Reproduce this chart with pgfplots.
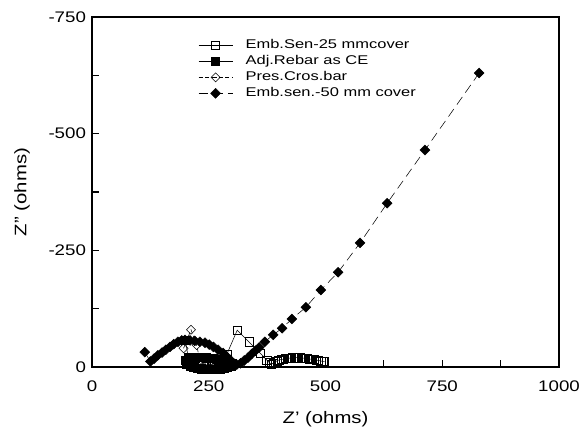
\documentclass[border=0pt]{standalone}
\usepackage{pgfplots}
\pgfplotsset{compat=1.18}
\usepackage{fontspec}
\setmainfont[FakeStretch=1.22]{Liberation Sans}
\newfontfamily\legfont[FakeStretch=1.3]{Liberation Sans}
\begin{document}
\begin{tikzpicture}
\path[use as bounding box] (-69pt,-47.25pt) rectangle (366pt,275.25pt);
\begin{axis}[
    at={(0,0)},anchor=south west,
    scale only axis,width=350.25pt,height=262.5pt,
    xmin=0,xmax=1000,ymin=-750,ymax=0,y dir=reverse,
    xtick={0,250,500,750,1000},xticklabels={0,250,500,750,1000},
    ytick={-750,-500,-250,0},yticklabels={-750,-500,-250,0},
    minor xtick={125,375,625,875},minor ytick={-625,-375,-125},
    tick align=inside,xtick pos=left,ytick pos=left,
    major tick length=5pt,minor tick length=5pt,
    axis line style={line width=1pt},
    every tick/.style={line width=0.8pt,black},
    tick label style={font=\fontsize{11.5}{13}\selectfont},
    xticklabel style={yshift=-6.5pt},
    yticklabel style={xshift=-1pt},
    label style={font=\fontsize{12.5}{14}\selectfont},
    xlabel={Z' (ohms)},ylabel={Z'' (ohms)},
    xlabel style={at={(axis description cs:0.5,-0.15)},anchor=center},
    ylabel style={at={(axis description cs:-0.15,0.5)},anchor=center},
    clip=false,
    legend style={at={(0.227,0.936)},anchor=north west,draw=none,fill=none,
        font=\legfont\fontsize{9.5}{10}\selectfont,inner sep=0pt,row sep=3.5pt,
        nodes={inner sep=0pt,text height=6.5pt,text depth=2pt},
        /tikz/every odd column/.append style={column sep=9.5pt}},
    legend cell align=left,
    legend image code/.code={
        \draw[mark repeat=2,mark phase=2] plot coordinates {(0cm,0cm)(0.45cm,0cm)(0.9cm,0cm)};
    },
]
% Emb.Sen-25 mm cover
\addplot[black,line width=0.4pt,mark=square,mark size=3.1pt,mark options={solid,fill=white,line width=0.4pt}]
coordinates{
(255,-5)(263,-9)(270,-12)(277,-15)(283,-20)(289,-28)(311,-79)(336,-54)(360,-30)(374,-15)
(380,-9)(384,-6)(388,-8)(392,-11)(396,-13)(400,-15)(405,-16)(410,-17)(415,-18)(420,-19)
(425,-19)(430,-20)(435,-20)(440,-20)(445,-20)(450,-19)(455,-19)(460,-18)(465,-17)(470,-17)
(475,-16)(480,-15)(485,-14)(490,-13)(494,-12)(498,-12)};
% Adj.Rebar as CE
\addplot[black,line width=0.4pt,mark=square*,mark size=3.1pt,mark options={solid,fill=black}]
coordinates{
(200,-57)(206,-21)(200,-14)(206,-17)(213,-19)(220,-20)(228,-21)(236,-21)(244,-20)(252,-19)
(260,-18)(268,-16)(276,-14)(284,-12)(292,-10)(300,-8)(298,-2)(290,1)(282,3)(274,4)(266,5)
(258,5)(250,5)(242,5)(234,4)(226,3)(218,1)(210,-2)(203,-6)};
% Pres.Cros.bar
\addplot[black,line width=0.4pt,dash pattern=on 3pt off 2pt,mark=square,mark size=2.4pt,
    mark options={solid,fill=white,line width=0.4pt,rotate=45}]
coordinates{
(196,-40)(212,-80)(224,-47)(231,-15)(242,-4)(250,-6)(258,-9)(266,-11)(274,-12)(282,-11)
(290,-8)(296,-4)};
% Emb.sen.-50 mm cover
\addplot[black,line width=0.4pt,dash pattern=on 7pt off 4pt,mark=square*,mark size=2.6pt,
    mark options={solid,fill=black,rotate=45}]
coordinates{
(113,-32)(125,-12)(133,-18)(141,-25)(150,-31)(158,-37)(167,-43)(175,-49)(184,-54)(192,-57)
(199,-58)(210,-57)(220,-56)(231,-54)(242,-52)(251,-48)(260,-43)(270,-37)(281,-30)(289,-22)
(296,-15)(303,-8)(310,-5)(318,-8)(326,-14)(334,-20)(342,-28)(350,-35)(358,-42)(370,-54)
(388,-69)(407,-83)(428,-103)(458,-128)(490,-165)(527,-203)(574,-266)(632,-351)(713,-465)
(829,-630)};
\legend{Emb.Sen-25 mmcover,Adj.Rebar as CE,Pres.Cros.bar,Emb.sen.-50 mm cover}
\end{axis}
\end{tikzpicture}
\end{document}
